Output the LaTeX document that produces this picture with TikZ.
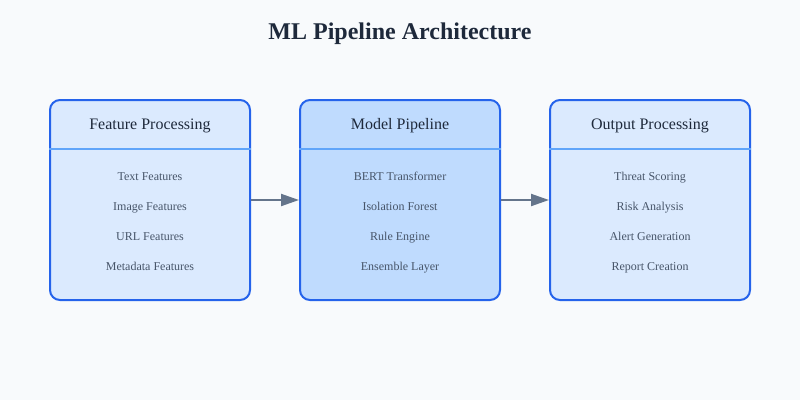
\documentclass[tikz,border=0pt]{standalone}
\usepackage{fontspec}
\setmainfont{Liberation Serif}
\usepackage{xcolor}
\usepackage{tikz}
\usetikzlibrary{arrows.meta,positioning,calc}

\definecolor{bgcol}{HTML}{F8FAFC}
\definecolor{edgeblue}{HTML}{2563EB}
\definecolor{sepblue}{HTML}{60A5FA}
\definecolor{paleblue}{HTML}{DBEAFE}
\definecolor{midblue}{HTML}{BFDBFE}
\definecolor{darktext}{HTML}{1E293B}
\definecolor{greytext}{HTML}{475569}
\definecolor{arrowgrey}{HTML}{64748B}

\begin{document}
\begin{tikzpicture}[
    x=1pt, y=-1pt,
    stage/.style={rectangle, draw=edgeblue, line width=2pt, rounded corners=10pt, fill=paleblue, minimum width=200pt, minimum height=200pt},
    midstage/.style={stage, fill=midblue},
    header/.style={font=\fontsize{16}{19}\selectfont, text=darktext, text height=11pt, text depth=3.5pt},
    item/.style={font=\fontsize{12}{14}\selectfont, text=greytext, text height=8.5pt, text depth=2.5pt},
    sep/.style={draw=sepblue, line width=1.5pt},
    arrow/.style={-{Triangle[length=18pt,width=12pt]}, line width=2pt, draw=arrowgrey},
]
    \useasboundingbox[fill=bgcol] (0,0) rectangle (800,400);
    \node[font=\fontsize{24}{29}\selectfont\bfseries, text=darktext] (title) at (400,34) {ML Pipeline Architecture};

    \node[stage] (feat) at (150,200) {};
    \node[midstage] (model) at (400,200) {};
    \node[stage] (output) at (650,200) {};

    % header dividers
    \draw[sep] ([yshift=-50pt]feat.north west) -- ([yshift=-50pt]feat.north east);
    \draw[sep] ([yshift=-50pt]model.north west) -- ([yshift=-50pt]model.north east);
    \draw[sep] ([yshift=-50pt]output.north west) -- ([yshift=-50pt]output.north east);

    \node[header] (feathead) at (150,126) {Feature Processing};
    \node[header] (modelhead) at (400,126) {Model Pipeline};
    \node[header] (outhead) at (650,126) {Output Processing};

    \node[item] (text) at (150,177) {Text Features};
    \node[item] (image) at (150,207) {Image Features};
    \node[item] (url) at (150,237) {URL Features};
    \node[item] (meta) at (150,267) {Metadata Features};

    \node[item] (bert) at (400,177) {BERT Transformer};
    \node[item] (iforest) at (400,207) {Isolation Forest};
    \node[item] (rules) at (400,237) {Rule Engine};
    \node[item] (ensemble) at (400,267) {Ensemble Layer};

    \node[item] (threat) at (650,177) {Threat Scoring};
    \node[item] (risk) at (650,207) {Risk Analysis};
    \node[item] (alert) at (650,237) {Alert Generation};
    \node[item] (report) at (650,267) {Report Creation};

    \draw[arrow] (feat.east) -- (model.west);
    \draw[arrow] (model.east) -- (output.west);
\end{tikzpicture}
\end{document}
